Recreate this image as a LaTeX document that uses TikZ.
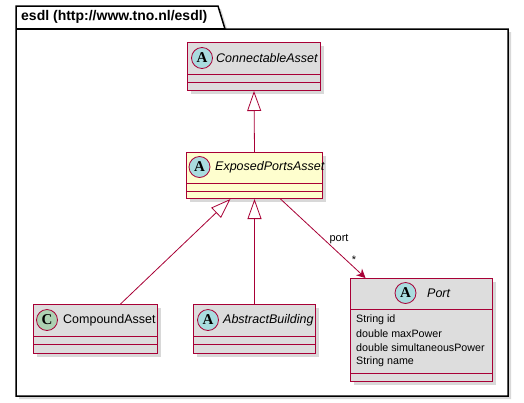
\documentclass[tikz,border=0pt]{standalone}
\usepackage{fontspec}
\setmainfont{Liberation Sans}
\newfontfamily\badgefont{Liberation Serif}
\usetikzlibrary{shadows,arrows.meta}
\definecolor{umlred}{HTML}{A80036}
\definecolor{umlgray}{HTML}{DDDDDD}
\definecolor{umlyellow}{HTML}{FEFECE}
\definecolor{abadge}{HTML}{A9DCDF}
\definecolor{cbadge}{HTML}{ADD1B2}

\begin{document}
\begin{tikzpicture}[x=1pt,y=-1pt,
        classbox/.style={draw=umlred, fill=umlgray, line width=1pt, anchor=north west, inner sep=0pt,
            drop shadow={shadow xshift=3pt, shadow yshift=-3pt, fill=black!30}},
        badge/.style={circle, draw=umlred, line width=0.8pt, minimum size=21pt, inner sep=0pt,
            font=\badgefont\bfseries\fontsize{15}{15}\selectfont},
        cname/.style={anchor=west, inner sep=0pt, font=\fontsize{12.5}{14}\selectfont\itshape},
        attr/.style={anchor=west, inner sep=0pt, font=\fontsize{10.7}{13}\selectfont},
        sep/.style={draw=umlred, line width=1pt},
        inherit/.style={draw=umlred, line width=0.8pt, -{Triangle[open, length=20pt, width=14pt, fill=white]}},
        assoc/.style={draw=umlred, line width=0.8pt, -{Stealth[length=9pt, width=9pt, inset=3pt]}},
        lbl/.style={inner sep=0pt, font=\fontsize{11}{13}\selectfont}]
        \useasboundingbox (0,0) rectangle (524,402);
        % package
        \draw[line width=1.5pt, fill=white, drop shadow={shadow xshift=3pt, shadow yshift=-3pt, fill=black!30}]
            (16,6) -- (218,6) -- (225,29) -- (508,29) -- (508,396) -- (16,396) -- cycle;
        \draw[line width=1.5pt] (16,29) -- (225,29);
        \node[anchor=west, inner sep=0pt, font=\bfseries\fontsize{14}{16}\selectfont] (pkg) at (21,17) {esdl (http://www.tno.nl/esdl)};

        \node[classbox, minimum width=133pt, minimum height=48pt] (conn) at (187,42) {};
        \node[badge, fill=abadge] (conna) at (202,58) {A};
        \node[cname] (connname) at (216,58) {ConnectableAsset};
        \draw[sep] (187,74) -- (320,74) (187,82) -- (320,82);

        \node[classbox, fill=umlyellow, minimum width=136pt, minimum height=46pt] (expo) at (186,152) {};
        \node[badge, fill=abadge] (expoa) at (199.5,167) {A};
        \node[cname] (exponame) at (215,167) {ExposedPortsAsset};
        \draw[sep] (186,183) -- (322,183) (186,191) -- (322,191);

        \node[classbox, minimum width=124pt, minimum height=49pt] (comp) at (33,304) {};
        \node[badge, fill=cbadge] (compc) at (47,320) {C};
        \node[cname, font=\fontsize{12.5}{14}\selectfont] (compname) at (63,320) {CompoundAsset};
        \draw[sep] (33,336) -- (157,336) (33,344) -- (157,344);

        \node[classbox, minimum width=122pt, minimum height=49pt] (build) at (193,304) {};
        \node[badge, fill=abadge] (builda) at (208,320) {A};
        \node[cname] (buildname) at (223,320) {AbstractBuilding};
        \draw[sep] (193,336) -- (315,336) (193,344) -- (315,344);

        \node[classbox, minimum width=142pt, minimum height=103pt] (port) at (350,278) {};
        \node[badge, fill=abadge] (porta) at (405.5,293) {A};
        \node[cname] (portname) at (427,293) {Port};
        \draw[sep] (350,309) -- (492,309) (350,373) -- (492,373);
        \node[attr] (portid) at (356,320) {String id};
        \node[attr] (portmax) at (356,334) {double maxPower};
        \node[attr] (portsim) at (356,348) {double simultaneousPower};
        \node[attr] (portname2) at (356,362) {String name};

        \draw[inherit] (expo.north) -- (conn.south);
        \draw[inherit] ([xshift=25pt]comp.north) -- ([xshift=-24pt]expo.south);
        \draw[inherit] (build.north) -- (expo.south);
        \draw[assoc] ([xshift=26pt]expo.south) -- ([xshift=-56pt]port.north);
        \node[lbl] (portlbl) at (339,239) {port};
        \node[lbl] (portmult) at (354,260) {*};
    \end{tikzpicture}
\end{document}
